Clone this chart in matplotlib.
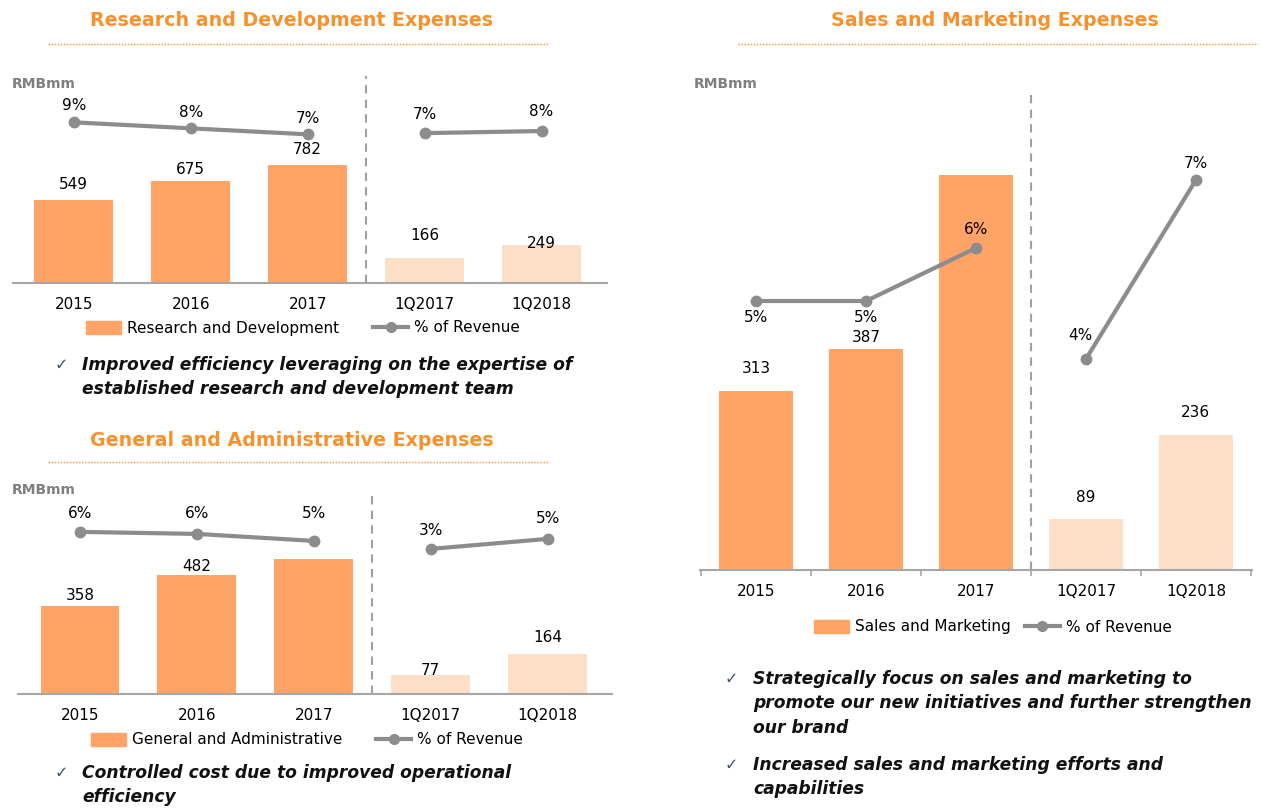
import matplotlib.pyplot as plt
from matplotlib.lines import Line2D
from matplotlib.patches import Patch

# data
categories = ['2015', '2016', '2017', '1Q2017', '1Q2018']

rd_values = [549, 675, 782, 166, 249]
rd_value_labels = ['549', '675', '782', '166', '249']
rd_pct = [9.0, 8.0, 7.0, 7.2, 7.55]

ga_values = [358, 482, 549, 77, 164]
ga_value_labels = ['358', '482', None, '77', '164']
ga_pct = [5.86, 5.57, 4.57, 3.43, 4.86]

sm_values = [313, 387, 691, 89, 236]
sm_value_labels = ['313', '387', None, '89', '236']
sm_pct = [4.78, 4.78, 5.84, 3.62, 7.2]

# style
ORANGE = '#FFA366'
LIGHT = '#FDDFC8'
GRAY = '#8C8C8C'
TITLE = '#F5922F'
W, H = 1262, 809

plt.rcParams['font.family'] = 'DejaVu Sans'

fig = plt.figure(figsize=(W / 100, H / 100), dpi=100)


def fx(x):
    return x / W


def fy(y):
    return 1 - y / H


def add_ax(l, t, r, b):
    return fig.add_axes([l / W, 1 - b / H, (r - l) / W, (b - t) / H])


def panel(rect, xlim, ymax, pct_lim, values, vlabels, pct, voff, poff, dash_top, tickmarks=False):
    ax = add_ax(*rect)
    x = list(range(len(categories)))
    colors = [ORANGE] * 3 + [LIGHT] * 2
    ax.bar(x, values, width=0.675, color=colors, zorder=2)
    for xi, v, lab, off in zip(x, values, vlabels, voff):
        if lab is not None:
            ax.annotate(lab, (xi, v), xytext=(0, off), textcoords='offset pixels',
                        ha='center', va='center', fontsize=11, color='black')
    ax.set_xlim(*xlim)
    ax.set_ylim(0, ymax)
    for s in ['top', 'left', 'right']:
        ax.spines[s].set_visible(False)
    ax.spines['bottom'].set_color('#A6A6A6')
    ax.spines['bottom'].set_linewidth(1.5)
    ax.set_yticks([])
    ax.set_xticks(x)
    ax.set_xticklabels(categories, fontsize=11)
    ax.tick_params(axis='x', length=0, pad=10)
    if tickmarks:
        ax.set_xticks([i - 0.5 for i in range(len(categories) + 1)], minor=True)
        ax.tick_params(axis='x', which='minor', length=4, color='#A6A6A6', width=1.2)
    ax.axvline(2.5, ymin=0, ymax=dash_top, color='#A0A0A0', ls=(0, (4, 3)), lw=1.5, zorder=1)
    ax.patch.set_alpha(0)

    ax2 = ax.twinx()
    ax2.set_ylim(*pct_lim)
    ax2.axis('off')
    ax2.plot(x[:3], pct[:3], color=GRAY, lw=3, marker='o', ms=7.5, zorder=3)
    ax2.plot(x[3:], pct[3:], color=GRAY, lw=3, marker='o', ms=7.5, zorder=3)
    for xi, p, off in zip(x, pct, poff):
        ax2.annotate(f'{round(p)}%', (xi, p), xytext=off, textcoords='offset pixels',
                     ha='center', va='center', fontsize=11, color='black')
    return ax


def legend(cx, cy, bar_label, colspace):
    handles = [Patch(color=ORANGE),
               Line2D([], [], color=GRAY, lw=3, marker='o', ms=7)]
    fig.legend(handles, [bar_label, '% of Revenue'], loc='center',
               bbox_to_anchor=(fx(cx), fy(cy)), ncol=2, frameon=False,
               fontsize=11, handlelength=2.3, handleheight=0.9,
               columnspacing=colspace, handletextpad=0.4, borderpad=0)


def header(cx, cy, text, x0, x1, ly):
    fig.text(fx(cx), fy(cy), text, ha='center', va='center', fontsize=13.7,
             fontweight='bold', color=TITLE)
    fig.add_artist(Line2D([fx(x0), fx(x1)], [fy(ly), fy(ly)], color=TITLE,
                          lw=1, ls=(0, (1, 1.2))))


def bullets(xc, xt, items):
    for y0, lines in items:
        fig.text(fx(xc), fy(y0), '\u2713', ha='left', va='center', fontsize=11.5,
                 color='#44546A')
        for i, line in enumerate(lines):
            fig.text(fx(xt), fy(y0 + i * 24.5), line, ha='left', va='center',
                     fontsize=12.3, fontweight='bold', fontstyle='italic', color='#111111')


# Research and Development
header(291, 20, 'Research and Development Expenses', 48, 548, 44)
fig.text(fx(12), fy(84), 'RMBmm', ha='left', va='center', fontsize=10,
         fontweight='bold', color='#7F7F7F')
panel((13, 60, 607, 283), (-0.52, 4.56), 1475, (-17.8, 19.4),
      rd_values, rd_value_labels, rd_pct,
      [15, 11, 15, 22, 2],
      [(0, 17), (0, 16), (0, 16), (0, 19), (0, 20)], 0.93)
legend(303, 328, 'Research and Development', 2.2)
bullets(55, 82, [(365, ['Improved efficiency leveraging on the expertise of',
                        'established research and development team'])])

# General and Administrative
header(292, 441, 'General and Administrative Expenses', 48, 548, 462)
fig.text(fx(12), fy(490), 'RMBmm', ha='left', va='center', fontsize=10,
         fontweight='bold', color='#7F7F7F')
panel((18, 470, 612, 694), (-0.53, 4.55), 911, (-17.3, 14.7),
      ga_values, ga_value_labels, ga_pct,
      [10, 9, 10, 5, 16],
      [(0, 18), (0, 20), (0, 27), (0, 18), (0, 20)], 0.90)
legend(307, 740, 'General and Administrative', 2.2)
bullets(55, 82, [(773, ['Controlled cost due to improved operational',
                        'efficiency'])])

# Sales and Marketing
header(995, 20, 'Sales and Marketing Expenses', 738, 1258, 44)
fig.text(fx(694), fy(84), 'RMBmm', ha='left', va='center', fontsize=10,
         fontweight='bold', color='#7F7F7F')
panel((700, 90, 1252, 570), (-0.51, 4.51), 839, (-0.6, 9.0),
      sm_values, sm_value_labels, sm_pct,
      [22, 11, 22, 22, 22],
      [(0, -17), (0, -17), (0, 18), (-6, 24), (0, 17)], 0.99, tickmarks=True)
legend(993, 627, 'Sales and Marketing', 0.9)
bullets(725, 753, [(679, ['Strategically focus on sales and marketing to',
                          'promote our new initiatives and further strengthen',
                          'our brand']),
                   (765, ['Increased sales and marketing efforts and',
                          'capabilities'])])

fig.savefig('out.png', dpi=100, facecolor='white')
